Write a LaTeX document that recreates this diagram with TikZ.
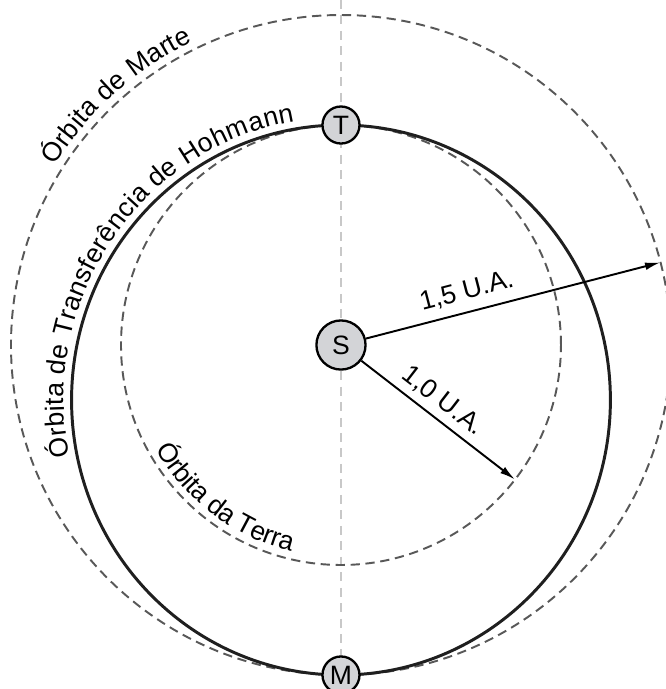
\documentclass[tikz,border=0pt]{standalone}
\usepackage{fontspec}
\setmainfont{Liberation Sans}
\usetikzlibrary{arrows.meta,decorations.text}
\newcommand{\ArrTip}{Latex[length=6,width=3]}
\newcommand{\lblfont}{\fontsize{10.3}{12}\selectfont}
\definecolor{orbgray}{RGB}{88,88,88}
\definecolor{axgray}{RGB}{200,200,200}
\definecolor{bodyfill}{RGB}{211,212,215}
\tikzset{orbit/.style={orbgray,dash pattern=on 3.6pt off 2.2pt,line width=.75pt}}
\tikzset{eixo/.style={axgray,dash pattern=on 3.5pt off 2.5pt,line width=1pt}}
\tikzset{body/.style={draw,circle,fill=bodyfill,line width=.9pt,inner sep=0pt,minimum size=.505cm,font=\lblfont}}
\tikzset{seta/.style={-{\ArrTip},line width=.75pt}}
\tikzset{orblabel/.style={decorate,decoration={text along path,text align=center,raise=3pt,text={|\lblfont|#1}}}}

\begin{document}
\begin{tikzpicture}[font=\lblfont]
\useasboundingbox(-4.650,-4.691)rectangle(4.432,4.705);
\coordinate(topo)at(0,4.705);\coordinate(base)at(0,-4.691);
\coordinate(marte)at(14.5:4.5);\coordinate(terra)at(-37.7:3);
\draw[eixo](topo)--(base);
\draw[orbit](0,0)circle[radius=3];
\draw[orbit](0,0)circle[radius=4.5];
\draw[line width=1.15pt,black!88](0,-.75)ellipse[x radius=3.674,y radius=3.75];
\node(S)[body,minimum size=.67cm]at(0,0){S};
\node(T)[body]at(0,3){T};\node(M)[body]at(0,-4.5){M};
\draw[seta](S)--node[sloped,above,pos=.36]{1,5 U.A.}(marte);
\draw[seta](S)--node[sloped,above,pos=.46,yshift=-1pt]{1,0 U.A.}(terra);
\path[orblabel={Órbita de Marte}](152:4.5)arc[start angle=152,end angle=112,radius=4.5];
\path[orblabel={Órbita de Transferência de Hohmann}]({3.674*cos(201)},{-.75+3.75*sin(201)})arc[start angle=201,end angle=90,x radius=3.674,y radius=3.75];
\path[orblabel={Órbita da Terra}](200:3)arc[start angle=200,end angle=266,radius=3];
\end{tikzpicture}
\end{document}
